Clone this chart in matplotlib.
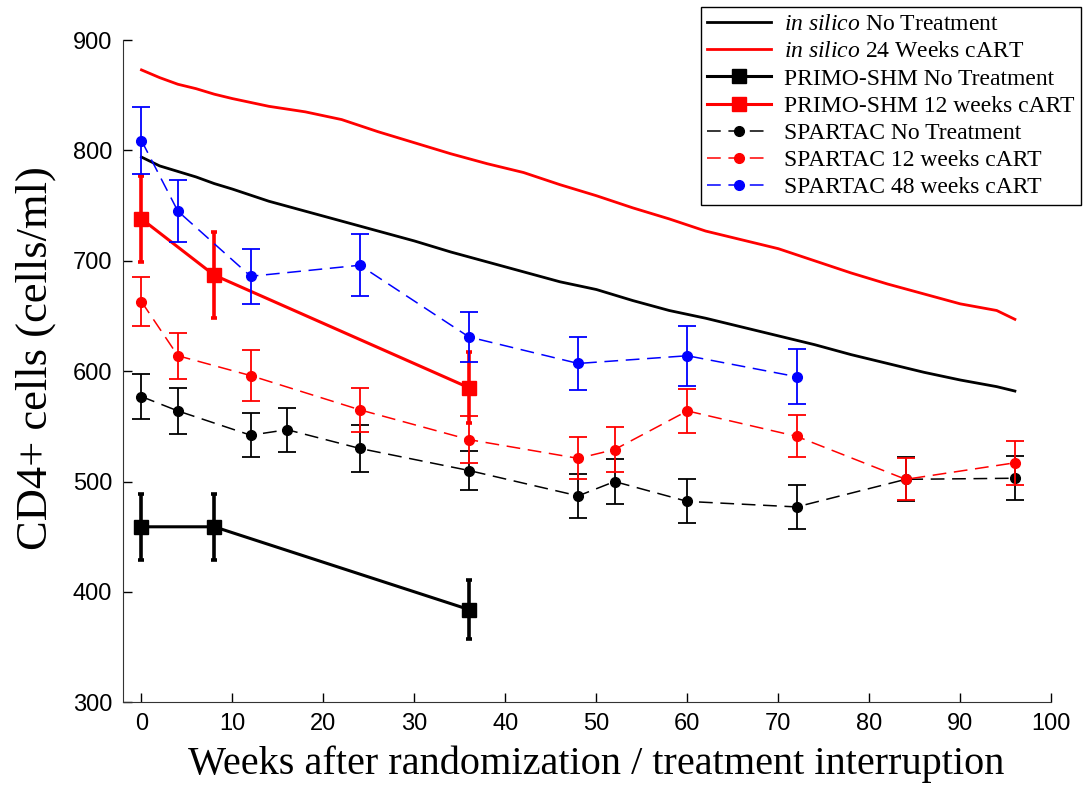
import numpy as np
import matplotlib
matplotlib.use('Agg')
import matplotlib.pyplot as plt

plt.rcParams['font.family'] = 'Liberation Sans'
plt.rcParams['mathtext.fontset'] = 'custom'
plt.rcParams['mathtext.rm'] = 'Liberation Serif'
plt.rcParams['mathtext.it'] = 'Liberation Serif:italic'

# --- in silico curves ---
sim_weeks = [0, 2, 4, 6, 8, 10, 14, 18, 22, 26, 30, 34, 38, 42, 46, 50, 54, 58,
             62, 66, 70, 74, 78, 82, 86, 90, 94, 96]
sim_no_treat = [794, 786, 781, 776, 770, 765, 754, 745, 736, 727, 718, 708, 699, 690,
                681, 674, 664, 655, 648, 640, 632, 624, 615, 607, 599, 592, 586, 582]
sim_24w = [873, 866, 860, 856, 851, 847, 840, 835, 828, 817, 807, 797, 788, 780,
           769, 759, 748, 738, 727, 719, 711, 700, 689, 679, 670, 661, 655, 647]

# --- PRIMO-SHM ---
primo_weeks = [0, 8, 36]
primo_no_treat = [459, 459, 384]
primo_no_treat_err = [30, 30, 27]
primo_12w = [738, 687, 585]
primo_12w_err = [39, 39, 32]

# --- SPARTAC ---
spartac_nt_weeks = [0, 4, 12, 16, 24, 36, 48, 52, 60, 72, 84, 96]
spartac_nt = [577, 564, 542, 547, 530, 510, 487, 500, 482, 477, 502, 503]
spartac_nt_err = [20, 21, 20, 20, 21, 18, 20, 20, 20, 20, 20, 20]

spartac_12_weeks = [0, 4, 12, 24, 36, 48, 52, 60, 72, 84, 96]
spartac_12 = [663, 614, 596, 565, 538, 521, 529, 564, 541, 502, 517]
spartac_12_err = [22, 21, 23, 20, 21, 19, 20, 20, 19, 19, 20]

spartac_48_weeks = [0, 4, 12, 24, 36, 48, 60, 72]
spartac_48 = [809, 745, 686, 696, 631, 607, 614, 595]
spartac_48_err = [30, 28, 25, 28, 23, 24, 27, 25]

fig = plt.figure(figsize=(10.91, 7.88), dpi=100)
ax = fig.add_axes([0.113, 0.1088, 0.8506, 0.8403])

# in silico
ax.plot(sim_weeks, sim_no_treat, color='black', lw=2, label=r'$\it{in\ silico}$ No Treatment')
ax.plot(sim_weeks, sim_24w, color='red', lw=2, label=r'$\it{in\ silico}$ 24 Weeks cART')

# PRIMO-SHM (thick solid, squares)
for w, v, e, c, lab in [(primo_weeks, primo_no_treat, primo_no_treat_err, 'black', 'PRIMO-SHM No Treatment'),
                        (primo_weeks, primo_12w, primo_12w_err, 'red', 'PRIMO-SHM 12 weeks cART')]:
    ax.errorbar(w, v, yerr=e, fmt='none', ecolor=c, elinewidth=2.6, capsize=2.5, capthick=2.6)
    ax.plot(w, v, color=c, lw=2.2, marker='s', markersize=10, label=lab)

# SPARTAC (thin dashed, circles)
for w, v, e, c, lab in [(spartac_nt_weeks, spartac_nt, spartac_nt_err, 'black', 'SPARTAC No Treatment'),
                        (spartac_12_weeks, spartac_12, spartac_12_err, 'red', 'SPARTAC 12 weeks cART'),
                        (spartac_48_weeks, spartac_48, spartac_48_err, 'blue', 'SPARTAC 48 weeks cART')]:
    ax.errorbar(w, v, yerr=e, fmt='none', ecolor=c, elinewidth=1.3, capsize=6.5, capthick=1.3)
    ax.plot(w, v, color=c, lw=1.1, ls=(0, (9, 5)), marker='o', markersize=7, label=lab)

ax.set_xlim(-2, 100)
ax.set_ylim(300, 900)
ax.set_xticks(np.arange(0, 101, 10))
ax.set_yticks(np.arange(300, 901, 100))
ax.tick_params(direction='in', length=6.5, width=1, labelsize=17, pad=8)
ax.spines['top'].set_visible(False)
ax.spines['right'].set_visible(False)
for s in ['left', 'bottom']:
    ax.spines[s].set_color('#333333')

ax.set_xlabel('Weeks after randomization / treatment interruption',
              family='Liberation Serif', fontsize=29)
ax.set_ylabel('CD4+ cells (cells/ml)', family='Liberation Serif', fontsize=32)
ax.xaxis.set_label_coords(0.51, -0.065)
ax.yaxis.set_label_coords(-0.072, 0.52)

leg = ax.legend(loc='upper right', bbox_to_anchor=(0.991, 0.991), bbox_transform=fig.transFigure,
                borderaxespad=0, fancybox=False, edgecolor='black', framealpha=1,
                prop={'family': 'Liberation Serif', 'size': 17}, handlelength=2.7,
                numpoints=1, labelspacing=0.24, borderpad=0.28, handletextpad=0.55)
leg.get_frame().set_linewidth(1)

fig.savefig('out.png', dpi=100)
